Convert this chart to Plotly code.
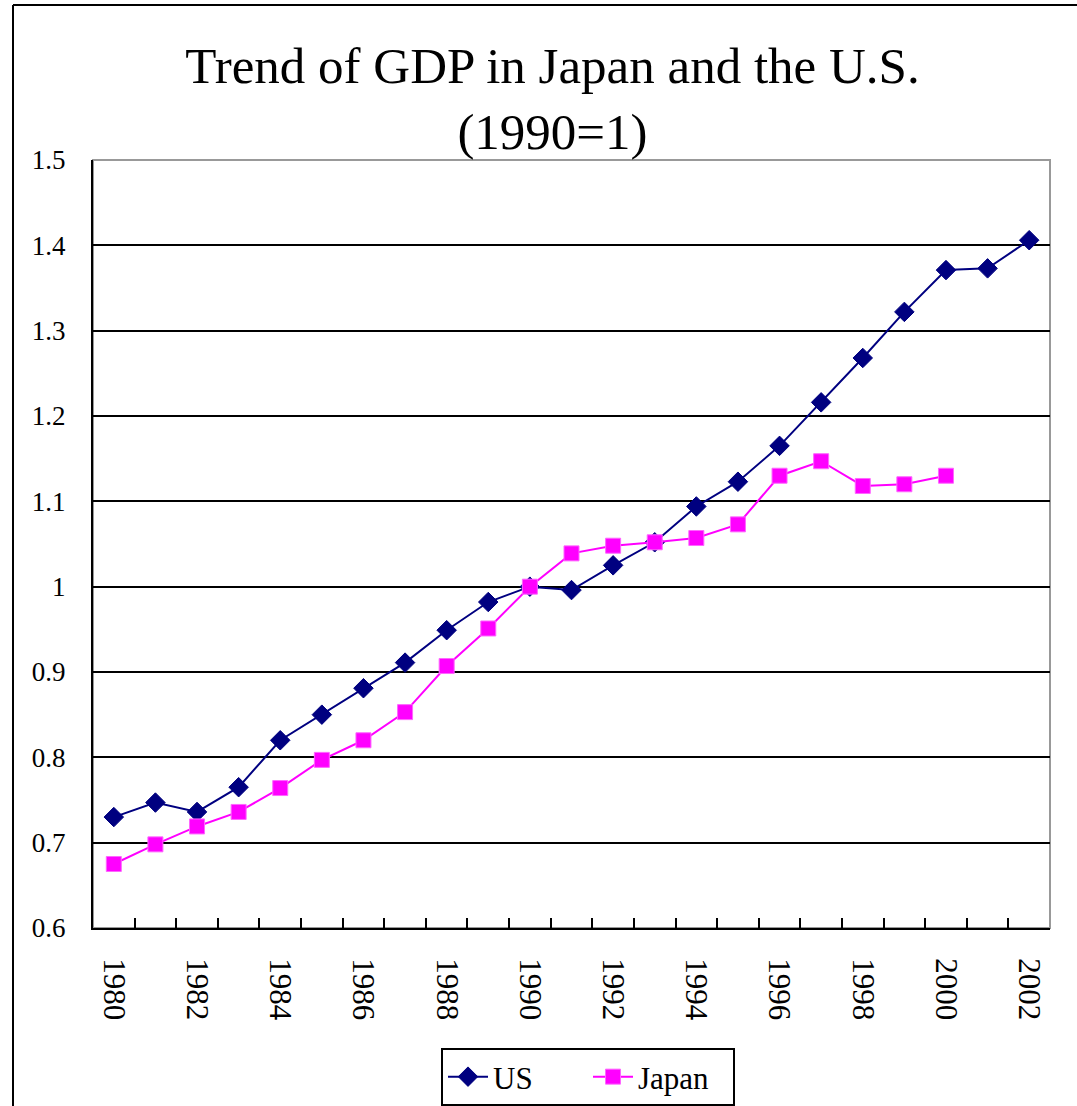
import plotly.graph_objects as go

years = [str(y) for y in range(1980, 2003)]
tick_labels = [y if int(y) % 2 == 0 else "" for y in years]

us_values = [0.730, 0.747, 0.736, 0.765, 0.820, 0.850, 0.881, 0.911, 0.949, 0.982,
             1.000, 0.996, 1.025, 1.052, 1.094, 1.123, 1.165, 1.216, 1.268, 1.322,
             1.371, 1.373, 1.406]
japan_years = years[:21]
japan_values = [0.675, 0.698, 0.719, 0.736, 0.764, 0.797, 0.820, 0.853, 0.907, 0.951,
                1.000, 1.039, 1.048, 1.052, 1.057, 1.073, 1.130, 1.147, 1.118, 1.120,
                1.130]

FONT = "Liberation Serif, Times New Roman, serif"

fig = go.Figure()
fig.add_trace(go.Scatter(
    x=years, y=us_values, name="US", mode="lines+markers",
    line=dict(color="#000080", width=2),
    marker=dict(symbol="diamond", size=15, color="#000080",
                line=dict(color="#000080", width=1)),
))
fig.add_trace(go.Scatter(
    x=japan_years, y=japan_values, name="Japan", mode="lines+markers",
    line=dict(color="#FF00FF", width=2),
    marker=dict(symbol="square", size=15, color="#FF00FF",
                line=dict(color="#FF66FF", width=1)),
))

W, H = 1077, 1106
L, R, T, B = 93, 27, 160, 178
pw, ph = W - L - R, H - T - B

def px_x(p):
    return (p - L) / pw

def px_y(p):
    return (H - B - p) / ph

fig.update_layout(
    width=W, height=H,
    margin=dict(l=L, r=R, t=T, b=B, pad=0, autoexpand=False),
    paper_bgcolor="white", plot_bgcolor="white",
    font=dict(family=FONT, color="black"),
    title=dict(
        text="Trend of GDP in Japan and the U.S.<br>(1990=1)",
        font=dict(family=FONT, size=51, color="black"),
        x=0.513, xref="container", xanchor="center",
        y=1 - 83 / H, yref="container", yanchor="top",
    ),
    xaxis=dict(
        type="category", categoryorder="array", categoryarray=years,
        tickmode="array", tickvals=years, ticktext=tick_labels,
        tickson="boundaries", ticks="inside", ticklen=10, tickwidth=2,
        tickcolor="black", tickangle=90,
        tickfont=dict(family=FONT, size=31, color="black"),
        ticklabelstandoff=22,
        showline=True, linecolor="black", linewidth=2,
        showgrid=False, zeroline=False, automargin=False,
        range=[-0.5, 22.5],
    ),
    yaxis=dict(
        range=[0.6, 1.5], tick0=0.6, dtick=0.1,
        ticks="inside", ticklen=10, tickwidth=2, tickcolor="black",
        tickfont=dict(family=FONT, size=27, color="black"),
        ticklabelstandoff=20,
        showline=True, linecolor="black", linewidth=2,
        showgrid=True, gridcolor="black", gridwidth=1.5,
        zeroline=False, automargin=False,
    ),
    legend=dict(
        orientation="h", x=px_x(588), xanchor="center",
        y=px_y(1048), yanchor="top",
        bordercolor="black", borderwidth=2, bgcolor="white",
        font=dict(family=FONT, size=31, color="black"),
        entrywidth=90, entrywidthmode="pixels",
        itemwidth=40,
    ),
    showlegend=True,
    shapes=[
        dict(type="rect", xref="paper", yref="paper", x0=0, x1=1, y0=0, y1=1,
             line=dict(color="#999999", width=2), layer="below"),
        dict(type="line", xref="paper", yref="paper",
             x0=px_x(13), x1=px_x(13), y0=px_y(1200), y1=px_y(5),
             line=dict(color="black", width=2)),
        dict(type="line", xref="paper", yref="paper",
             x0=px_x(13), x1=px_x(1200), y0=px_y(5), y1=px_y(5),
             line=dict(color="black", width=2)),
    ],
)

fig.write_html("out.html")
